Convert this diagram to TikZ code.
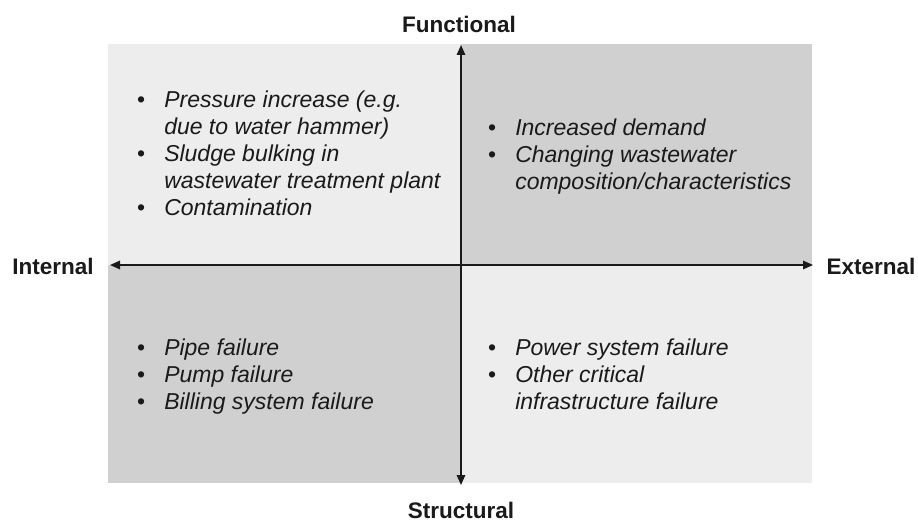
\documentclass[tikz,border=0pt]{standalone}
\usepackage{fontspec}
\setmainfont{Liberation Sans}
\usetikzlibrary{arrows.meta}
\definecolor{lightq}{HTML}{EDEDED}
\definecolor{darkq}{HTML}{D0D0D0}
\definecolor{inkc}{HTML}{1A1A1A}
\tikzset{
  quad/.style={draw=none, inner sep=0pt, outer sep=0pt},
  axis/.style={draw=inkc, line width=1.6pt, {Triangle[length=10pt,width=8.5pt]}-{Triangle[length=10pt,width=8.5pt]}},
  axlabel/.style={text=inkc, font=\fontsize{22.5}{26}\selectfont\bfseries, inner sep=0pt},
  items/.style={text=inkc, font=\fontsize{23}{27}\selectfont\itshape, inner sep=0pt, anchor=west, align=left}
}
\newcommand{\bitems}[1]{\begin{tabular}{@{}l@{\hspace{19pt}}l@{}}#1\end{tabular}}
\begin{document}
\begin{tikzpicture}[x=1pt,y=-1pt]
\useasboundingbox (0,0) rectangle (918,521);
% quadrants
\fill[lightq] (108,44) rectangle (461,265);
\fill[darkq] (461,44) rectangle (812,265);
\fill[darkq] (108,265) rectangle (461,483);
\fill[lightq] (461,265) rectangle (812,483);
% axis end points
\coordinate (top) at (461,45);
\coordinate (bot) at (461,485);
\coordinate (lft) at (110,265);
\coordinate (rgt) at (813,265);
\draw[axis] (lft) -- (rgt);
\draw[axis] (bot) -- (top);
% axis labels
\node[axlabel] (functional) at (459,24) {Functional};
\node[axlabel] (structural) at (461,510) {Structural};
\node[axlabel] (internal) at (53,266) {Internal};
\node[axlabel] (external) at (871,266) {External};
% quadrant texts
\node[items] (tl) at (137,156) {\bitems{\upshape•&Pressure increase (e.g.\\ &due to water hammer)\\ \upshape•&Sludge bulking in\\ &wastewater treatment plant\\ \upshape•&Contamination}};
\node[items] (tr) at (488,157) {\bitems{\upshape•&Increased demand\\ \upshape•&Changing wastewater\\ &composition/characteristics}};
\node[items] (bl) at (137,377) {\bitems{\upshape•&Pipe failure\\ \upshape•&Pump failure\\ \upshape•&Billing system failure}};
\node[items] (br) at (488,377) {\bitems{\upshape•&Power system failure\\ \upshape•&Other critical\\ &infrastructure failure}};
\end{tikzpicture}
\end{document}
